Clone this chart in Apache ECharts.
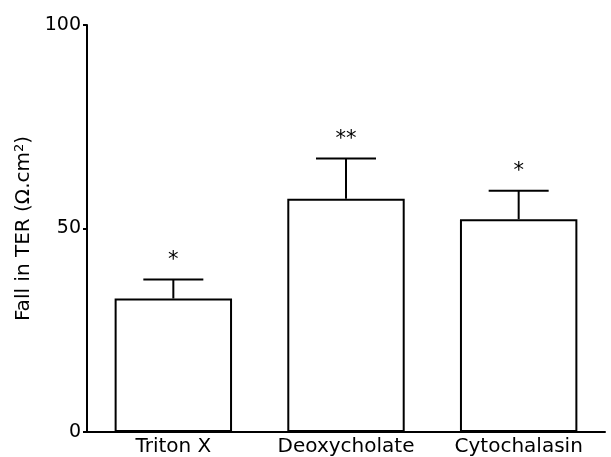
<!DOCTYPE html>
<html>
<head>
<meta charset="utf-8">
<script src="https://cdn.jsdelivr.net/npm/echarts@6/dist/echarts.min.js"></script>
<style>
  html, body { margin: 0; padding: 0; background: #fff; }
  #chart { width: 611px; height: 457px; }
</style>
</head>
<body>
<div id="chart"></div>
<script>
const categories = ["Triton X", "Deoxycholate", "Cytochalasin"];
const fallValues = [32.8, 57.3, 52.3];
const errValues = [4.7, 9.9, 7.0];
const sigMarks = ["*", "**", "*"];
const yTicks = [0, 50, 100];

const myChart = echarts.init(document.getElementById("chart"));
const font = "DejaVu Sans";

// error bar + star over each bar
function renderErr(params, api) {
  const idx = api.value(0);
  const base = api.coord([idx, api.value(1)]);
  const top = api.coord([idx, api.value(1) + api.value(2)]);
  const half = 30;
  const style = { stroke: "#000", lineWidth: 2 };
  return {
    type: "group",
    children: [
      { type: "line", shape: { x1: base[0], y1: base[1], x2: top[0], y2: top[1] }, style: style },
      { type: "line", shape: { x1: top[0] - half, y1: top[1], x2: top[0] + half, y2: top[1] }, style: style },
      {
        type: "text",
        x: top[0],
        y: top[1] - 19,
        style: {
          text: sigMarks[idx],
          fill: "#000",
          font: "21px " + font,
          align: "center",
          verticalAlign: "middle"
        }
      }
    ]
  };
}

let option = {
  backgroundColor: "#fff",
  animation: false,
  textStyle: { fontFamily: font, color: "#000" },
  grid: { left: 87, right: 6, top: 25, bottom: 25 },
  xAxis: {
    type: "category",
    data: categories,
    axisLine: { lineStyle: { color: "#000", width: 2 } },
    axisTick: { show: false },
    axisLabel: { color: "#000", fontSize: 20, fontFamily: font, margin: 5, interval: 0, hideOverlap: false }
  },
  yAxis: {
    type: "value",
    min: yTicks[0],
    max: yTicks[yTicks.length - 1],
    interval: 50,
    name: "Fall in TER (Ω.cm{sup|2})",
    nameLocation: "middle",
    nameRotate: 90,
    nameGap: 48,
    nameTextStyle: {
      color: "#000",
      fontSize: 20,
      fontFamily: font,
      rich: { sup: { fontSize: 13, verticalAlign: "top", padding: [0, 0, 9, 0], fontFamily: font } }
    },
    axisLine: { show: true, lineStyle: { color: "#000", width: 2 } },
    axisTick: { show: true, length: 4, lineStyle: { color: "#000", width: 2 } },
    axisLabel: { color: "#000", fontSize: 19, fontFamily: font, margin: 6 },
    splitLine: { show: false }
  },
  series: [
    {
      type: "bar",
      data: fallValues,
      barWidth: "68%",
      itemStyle: { color: "#fff", borderColor: "#000", borderWidth: 2 }
    },
    {
      type: "custom",
      renderItem: renderErr,
      data: categories.map((c, i) => [i, fallValues[i], errValues[i]]),
      z: 3
    }
  ]
};
myChart.setOption(option);
</script>
</body>
</html>
